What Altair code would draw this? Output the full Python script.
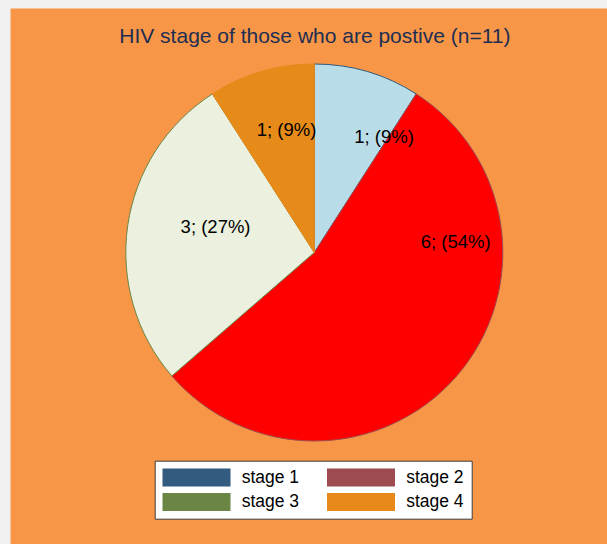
import math

import altair as alt
import pandas as pd

# Counts of HIV-positive patients by stage
stages = ["stage 1", "stage 2", "stage 3", "stage 4"]
counts = [1, 6, 3, 1]

# Slice fills, and the key colours (also used for the slice outlines)
slice_colors = ["#B8DDE8", "#FF0000", "#EBF1DE", "#E68A1A"]
key_colors = ["#335B7F", "#9D4A50", "#6B8545", "#E88A1A"]

# Where each slice label sits: angle (deg, clockwise from 12 o'clock) and
# distance from the centre as a fraction of the pie radius
label_angle = [31.1, 85.6, 284.5, 347.2]
label_radius = [0.716, 0.752, 0.541, 0.666]

total = sum(counts)
labels = [f"{c}; ({int(100 * c / total)}%)" for c in counts]

df = pd.DataFrame({
    "stage": stages,
    "count": counts,
    "order": list(range(len(stages))),
    "fill": slice_colors,
    "outline": key_colors,
    "label": labels,
    "label_angle": label_angle,
    "label_radius": label_radius,
})

# The key is filled column by column, so list it as
# stage 1, stage 3 | stage 2, stage 4 to read row-wise 1 2 / 3 4
key_order = [0, 2, 1, 3]
key_domain = [stages[i] for i in key_order]
key_range = [key_colors[i] for i in key_order]

PIE_R = 188.5
CX, CY = 304.3, 244.5
FONT = "Liberation Sans, Arial, sans-serif"

base = alt.Chart(df)

pie = base.mark_arc(outerRadius=PIE_R, strokeWidth=1).encode(
    x=alt.value(CX),
    y=alt.value(CY),
    theta=alt.Theta("count:Q", stack=True),
    order=alt.Order("order:Q"),
    fill=alt.Fill("fill:N", scale=None),
    stroke=alt.Stroke("outline:N", scale=None),
)

text = base.mark_text(
    font=FONT, fontSize=18.5, color="black", align="center", baseline="middle"
).encode(
    x=alt.value(CX),
    y=alt.value(CY),
    theta=alt.Theta("label_angle:Q", scale=alt.Scale(domain=[0, 360], range=[0, 2 * math.pi])),
    radius=alt.Radius("label_radius:Q", scale=alt.Scale(type="linear", domain=[0, 1], range=[0, PIE_R])),
    text="label:N",
)

# Invisible layer that carries the stage key
key = base.mark_arc(outerRadius=PIE_R, opacity=0).encode(
    x=alt.value(CX),
    y=alt.value(CY),
    theta=alt.Theta("count:Q", stack=True),
    order=alt.Order("order:Q"),
    color=alt.Color(
        "stage:N",
        scale=alt.Scale(domain=key_domain, range=key_range),
        title=None,
        legend=alt.Legend(
            orient="none",
            legendX=144.7,
            legendY=452.7,
            columns=2,
            columnPadding=26.5,
            rowPadding=6.4,
            padding=7.8,
            fillColor="white",
            strokeColor="#3C3C3C",
            symbolType="M-3.778,-1H3.778V1H-3.778Z",
            symbolSize=324,
            symbolStrokeWidth=0,
            symbolOpacity=1,
            symbolOffset=25,
            labelOffset=36.2,
            labelFont=FONT,
            labelFontSize=17.5,
            labelColor="black",
            labelLimit=200,
        ),
    ),
)

chart = (
    alt.layer(pie, key, text)
    .resolve_scale(theta="independent")
    .properties(
        width=597,
        height=536,
        padding={"left": 10, "top": 8, "right": 0, "bottom": 0},
        background="#F0F0F0",
        autosize=alt.AutoSizeParams(type="none"),
        title=alt.TitleParams(
            text="HIV stage of those who are postive (n=11)",
            font=FONT,
            fontSize=21,
            fontWeight="normal",
            color="#1E2E52",
            anchor="middle",
            baseline="alphabetic",
            offset=-36.3,
            dx=6.4,
            dy=20,
        ),
    )
    .configure_view(fill="#F79646", stroke="transparent")
)

chart.save("out.html", embed_options={"renderer": "svg", "actions": False})
